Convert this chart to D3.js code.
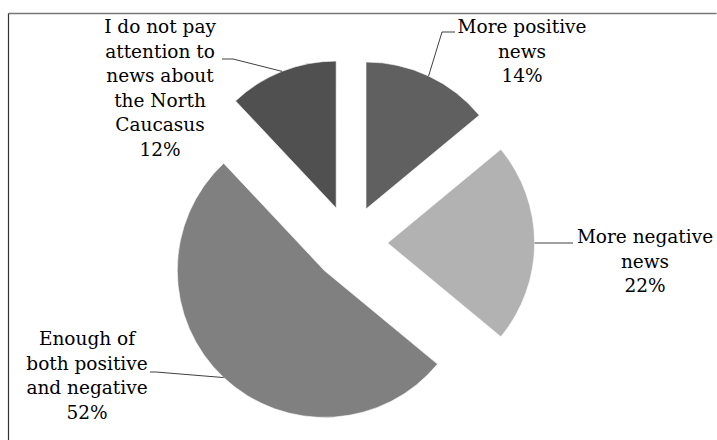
<!DOCTYPE html>
<html>
<head>
<meta charset="utf-8">
<script src="https://cdn.jsdelivr.net/npm/d3@7"></script>
<style>
  html, body { margin: 0; padding: 0; background: #fff; }
  svg { display: block; }
</style>
</head>
<body>
<svg id="chart" width="717" height="440"></svg>
<script>
// ---- data ----
const categories = [
  "More positive news",
  "More negative news",
  "Enough of both positive and negative",
  "I do not pay attention to news about the North Caucasus"
];
const values = [14, 22, 52, 12];
const labelLines = [
  ["More positive", "news", "14%"],
  ["More negative", "news", "22%"],
  ["Enough of", "both positive", "and negative", "52%"],
  ["I do not pay", "attention to", "news about", "the North", "Caucasus", "12%"]
];
const colors = ["#606060", "#b2b2b2", "#808080", "#505050"];

// ---- layout ----
const W = 717, H = 440;
const cx = 350, cy = 243, R = 147, explode = 37.6;
const fontSize = 18.5, lineH = 24.5;
// label block: centre x, first baseline y, leader knee and end (text side)
const labelLayout = [
  { x: 522, y: 33,  knee: [442, 32],  end: [455, 32] },
  { x: 645, y: 243, knee: [563, 243], end: [573, 243] },
  { x: 87,  y: 345, knee: [156, 372], end: [150, 372] },
  { x: 160, y: 33,  knee: [233, 59],  end: [222, 59] }
];

const svg = d3.select("#chart");

// border (frame extends past the right/bottom of the picture)
svg.append("line").attr("x1", 8.5).attr("y1", 13.5).attr("x2", 716.5).attr("y2", 13.5)
  .attr("stroke", "#777").attr("stroke-width", 1.5);
svg.append("line").attr("x1", 8.5).attr("y1", 13.5).attr("x2", 8.5).attr("y2", H)
  .attr("stroke", "#333").attr("stroke-width", 1.2);

const data = categories.map((c, i) => ({ cat: c, value: values[i], lines: labelLines[i], color: colors[i], i }));

const pie = d3.pie().sort(null).value(d => d.value);
const arcs = pie(data);
const arc = d3.arc().innerRadius(0).outerRadius(R);

const g = svg.append("g").attr("transform", `translate(${cx},${cy})`);

arcs.forEach(a => {
  const mid = (a.startAngle + a.endAngle) / 2;
  const ox = Math.sin(mid) * explode, oy = -Math.cos(mid) * explode;
  a.ox = ox; a.oy = oy; a.mid = mid;
  g.append("path")
    .attr("d", arc(a))
    .attr("transform", `translate(${ox},${oy})`)
    .attr("fill", a.data.color)
    .attr("stroke", "#fff").attr("stroke-width", 0.6);
});

// leader lines and labels
arcs.forEach(a => {
  const L = labelLayout[a.data.i];
  const px = cx + a.ox + Math.sin(a.mid) * R;
  const py = cy + a.oy - Math.cos(a.mid) * R;
  svg.append("polyline")
    .attr("points", [[px, py], L.knee, L.end].map(p => p.join(",")).join(" "))
    .attr("fill", "none").attr("stroke", "#404040").attr("stroke-width", 1);
  const t = svg.append("text")
    .attr("font-family", "'DejaVu Serif', serif")
    .attr("font-size", fontSize)
    .attr("fill", "#000")
    .attr("text-anchor", "middle");
  a.data.lines.forEach((ln, k) => {
    t.append("tspan").attr("x", L.x).attr("y", L.y + k * lineH).text(ln);
  });
});
</script>
</body>
</html>
